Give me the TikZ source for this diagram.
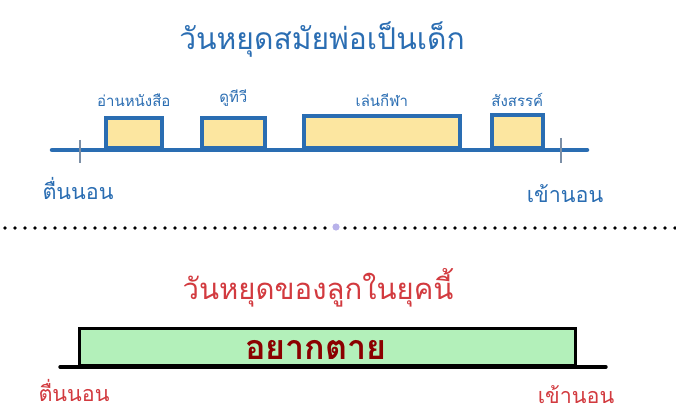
\documentclass[tikz,border=0pt]{standalone}
\usepackage{fontspec}
\newfontfamily\thaifont[Script=Thai]{Loma}
\usetikzlibrary{positioning}
\definecolor{dadblue}{HTML}{2A6DB2}
\definecolor{tickgray}{HTML}{7C8FA6}
\definecolor{boxyellow}{HTML}{FCE6A0}
\definecolor{kidred}{HTML}{D23A3F}
\definecolor{boxgreen}{HTML}{B3F0BA}
\definecolor{darkred}{HTML}{8B0000}
\definecolor{handle}{HTML}{B8B2EA}
\begin{document}
\begin{tikzpicture}[x=1pt,y=-1pt,
  every node/.style={font=\thaifont,inner sep=0pt},
  actbox/.style={draw=dadblue,line width=3.6pt,fill=boxyellow,anchor=south west,minimum height=30pt},
  actlabel/.style={font=\thaifont\fontsize{15}{18}\selectfont,text=dadblue},
  endlabel/.style={font=\thaifont\fontsize{21.5}{25}\selectfont}]
\useasboundingbox (0,0) rectangle (676,419);
% dad's holiday
\node[font=\thaifont\fontsize{30}{36}\selectfont,text=dadblue] (dadtitle) at (322,40) {วันหยุดสมัยพ่อเป็นเด็ก};
\coordinate (dadstart) at (52,150);
\coordinate (dadend) at (587,150);
\draw[dadblue,line width=4.5pt,line cap=round] (dadstart) -- (dadend);
\foreach \x/\y in {80/140,561/138} { \draw[tickgray,line width=1.3pt] (\x,\y) -- (\x,163); }
\node[actbox,minimum width=56pt] (read) at (104,150) {};
\node[actbox,minimum width=63pt] (tv) at (200,150) {};
\node[actbox,minimum width=156pt,minimum height=32pt] (sport) at (302,150) {};
\node[actbox,minimum width=51pt,minimum height=33pt] (party) at (490,150) {};
\node[actlabel,above=10pt of read] (readlbl) {อ่านหนังสือ};
\node[actlabel,above=10pt of tv] (tvlbl) {ดูทีวี};
\node[actlabel,above=8pt of sport] (sportlbl) {เล่นกีฬา};
\node[actlabel,above=7pt of party] (partylbl) {สังสรรค์};
\node[endlabel,text=dadblue] (dadwake) at (78,188) {ตื่นนอน};
\node[endlabel,text=dadblue] (dadsleep) at (565,194) {เข้านอน};
% divider
\coordinate (divl) at (5,228);
\coordinate (divr) at (676,228);
\draw[line width=3.8pt,line cap=round,dash pattern=on 0pt off 10pt] (divl) -- (divr);
\fill[handle] (336,227) circle (3.6pt);
% kid's holiday
\node[font=\thaifont\fontsize{29.3}{35}\selectfont,text=kidred] (kidtitle) at (318,288) {วันหยุดของลูกในยุคนี้};
\coordinate (kidstart) at (60,367);
\coordinate (kidend) at (606,367);
\draw[black,line width=3.4pt,line cap=round] (kidstart) -- (kidend);
\node[draw=black,line width=3pt,fill=boxgreen,anchor=south west,minimum width=496pt,minimum height=37pt] (wantdie) at (78,367) {};
\node[font=\thaifont\bfseries\fontsize{34}{40}\selectfont,text=darkred] (wantdielbl) at (316,350) {อยากตาย};
\node[endlabel,text=kidred] (kidwake) at (74,390) {ตื่นนอน};
\node[endlabel,text=kidred] (kidsleep) at (576,395) {เข้านอน};
\end{tikzpicture}
\end{document}
